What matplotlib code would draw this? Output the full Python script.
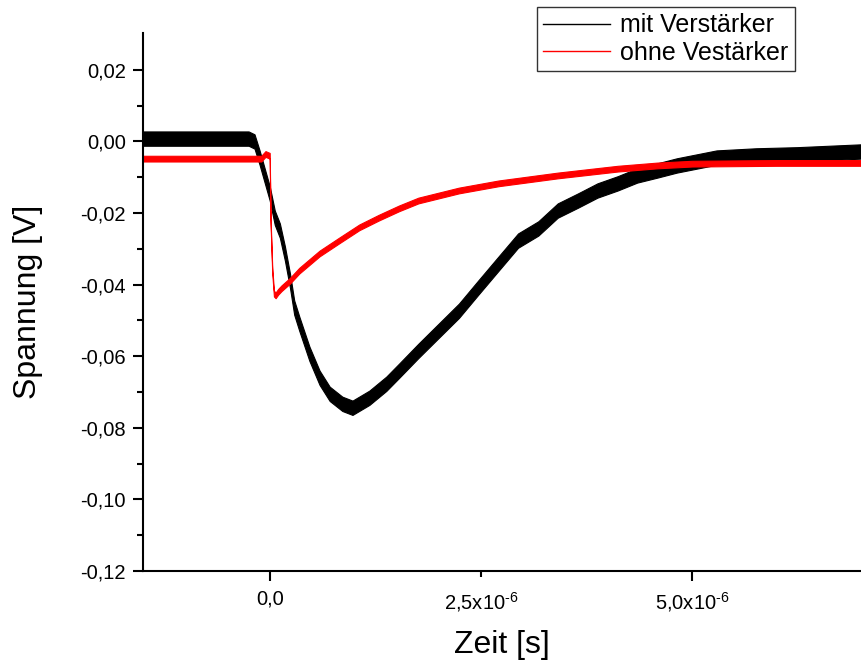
import matplotlib
matplotlib.use("Agg")
import numpy as np
import matplotlib.pyplot as plt
from matplotlib.lines import Line2D
from matplotlib.ticker import FixedLocator, FixedFormatter

plt.rcParams['font.family'] = ['Liberation Sans', 'DejaVu Sans']
plt.rcParams['mathtext.fontset'] = 'custom'
plt.rcParams['mathtext.rm'] = 'Liberation Sans'
plt.rcParams['mathtext.default'] = 'regular'
plt.rcParams['axes.unicode_minus'] = False

# values (time in microseconds, voltage in V)
black_t = [-1.5, -0.25, -0.18, -0.12, -0.06, 0.0, 0.06, 0.12, 0.18, 0.24, 0.29,
           0.35, 0.47, 0.59, 0.71, 0.86, 0.98, 1.18, 1.38, 1.53, 1.76, 2.0, 2.24,
           2.47, 2.71, 2.94, 3.18, 3.41, 3.65, 3.88, 4.12, 4.35, 4.59, 4.82, 5.29,
           5.76, 6.24, 7.0]
black_v = [0.0008, 0.0008, 0.0, -0.0045, -0.0095, -0.0145, -0.0213, -0.0249,
           -0.0313, -0.0389, -0.0464, -0.0509, -0.0593, -0.066, -0.0705, -0.0733,
           -0.0744, -0.0716, -0.0677, -0.0641, -0.0585, -0.0529, -0.0473, -0.0408,
           -0.0341, -0.0277, -0.0243, -0.0193, -0.0165, -0.0137, -0.0117, -0.0095,
           -0.0081, -0.0067, -0.0045, -0.0039, -0.0036, -0.0028]
red_t = [-1.5, -0.1, -0.05, 0.0, 0.01, 0.03, 0.05, 0.07, 0.1, 0.14, 0.24, 0.35,
         0.59, 0.82, 1.06, 1.29, 1.53, 1.76, 2.0, 2.24, 2.71, 3.41, 4.12, 4.59,
         5.0, 6.0, 7.0]
red_v = [-0.0048, -0.0048, -0.0035, -0.004, -0.022, -0.036, -0.0425, -0.043,
         -0.042, -0.041, -0.0389, -0.0361, -0.0313, -0.0277, -0.024, -0.0213,
         -0.0187, -0.0165, -0.0151, -0.0137, -0.0117, -0.0095, -0.0076, -0.0067,
         -0.0062, -0.006, -0.006]
# visible noise half-width of each trace
black_noise = 0.002
red_noise = 0.0008

x_ticks = [0.0, 5.0e-6]
x_labels = ['0,0', r'5,0x10$^{\text{-6}}$']
x_minor = [2.5e-6]
x_minor_labels = [r'2,5x10$^{\text{-6}}$']
y_ticks = [0.02, 0.0, -0.02, -0.04, -0.06, -0.08, -0.10, -0.12]
y_labels = ['0,02', '0,00', '-0,02', '-0,04', '-0,06', '-0,08', '-0,10', '-0,12']
y_minor = [0.01, -0.01, -0.03, -0.05, -0.07, -0.09, -0.11]

fig = plt.figure(figsize=(8.61, 6.68), dpi=100)
ax = fig.add_axes([143 / 861, 97 / 668, 718 / 861, 538 / 668])

bt = np.array(black_t) * 1e-6
bv = np.array(black_v)
rt = np.array(red_t) * 1e-6
rv = np.array(red_v)

# noisy traces drawn as narrow bands around the read-off centre line
ax.fill_between(bt, bv - black_noise, bv + black_noise, color='black', lw=0.8)
ax.fill_between(rt, rv - red_noise, rv + red_noise, color='red', lw=0.8)

ax.set_xlim(-1.5e-6, 7.0e-6)
ax.set_ylim(-0.12, 0.0303)

for s in ['top', 'right']:
    ax.spines[s].set_visible(False)
for s in ['left', 'bottom']:
    ax.spines[s].set_linewidth(1.5)

ax.xaxis.set_major_locator(FixedLocator(x_ticks))
ax.xaxis.set_major_formatter(FixedFormatter(x_labels))
ax.xaxis.set_minor_locator(FixedLocator(x_minor))
ax.xaxis.set_minor_formatter(FixedFormatter(x_minor_labels))
ax.yaxis.set_major_locator(FixedLocator(y_ticks))
ax.yaxis.set_major_formatter(FixedFormatter(y_labels))
ax.yaxis.set_minor_locator(FixedLocator(y_minor))

ax.tick_params(axis='both', which='major', direction='out', length=7.5, width=1.5,
               labelsize=14.5)
ax.tick_params(axis='both', which='minor', direction='out', length=4, width=1.5,
               labelsize=14.5)
ax.tick_params(axis='x', which='major', pad=6)
ax.tick_params(axis='x', which='minor', pad=9.5)
ax.tick_params(axis='y', which='major', pad=5)

ax.set_xlabel('Zeit [s]', fontsize=23, labelpad=12)
ax.set_ylabel('Spannung [V]', fontsize=23, labelpad=27)

handles = [Line2D([], [], color='black', lw=1), Line2D([], [], color='red', lw=1)]
leg = ax.legend(handles, ['mit Verstärker', 'ohne Vestärker'], loc='upper right',
                bbox_to_anchor=(0.908, 1.048), borderaxespad=0, fontsize=18,
                fancybox=False, framealpha=1, edgecolor='#333333',
                handlelength=2.7, handletextpad=0.4, labelspacing=0.15,
                borderpad=0.25)
leg.get_frame().set_linewidth(1)
leg.set_clip_on(False)

fig.savefig('out.png', dpi=100)
